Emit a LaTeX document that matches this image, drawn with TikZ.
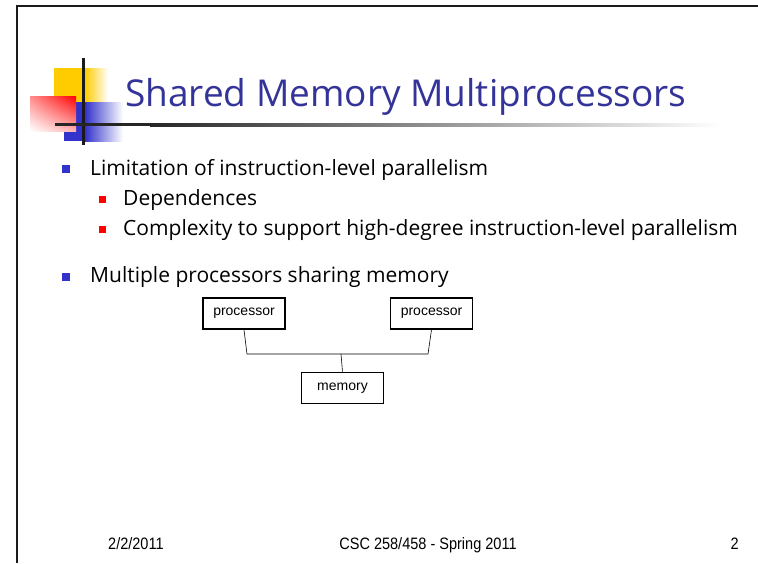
\documentclass[tikz,border=0pt]{standalone}
\usepackage{fontspec}
\usetikzlibrary{shadings}
\setmainfont{Open Sans}
\newfontfamily\boxfont{Liberation Sans}
\newfontfamily\footfont[FakeStretch=0.88]{Liberation Sans}
\definecolor{titleblue}{HTML}{333399}
\definecolor{logoyellow}{HTML}{FFCC00}
\definecolor{logoblue}{HTML}{3333CC}
\definecolor{rulegray}{HTML}{1A1A1A}
\tikzset{
  bodytext/.style={anchor=base west, inner sep=0pt, font=\fontsize{21}{25}\selectfont},
  lvlone/.style={fill=logoblue},
  lvltwo/.style={fill=red},
  unitbox/.style={draw, line width=1.6pt, minimum width=82pt, minimum height=31pt,
    inner sep=0pt, font=\boxfont\fontsize{14}{16}\selectfont},
  wire/.style={line width=0.6pt},
  foot/.style={anchor=base west, inner sep=0pt, font=\footfont\fontsize{16.5}{18}\selectfont}
}
\begin{document}
\begin{tikzpicture}[x=1pt,y=-1pt]
\useasboundingbox (0,0) rectangle (758,563);
\fill[white] (0,0) rectangle (758,563);

% slide frame
\draw[rulegray, line width=2.6pt] (17,563) -- (17,6) -- (758,6);

% logo blocks
\fill[logoyellow] (54,68) rectangle (85,102);
\shade[left color=logoyellow, right color=white] (85,68) rectangle (108,102);
\fill[logoblue] (64,102) rectangle (85,141);
\shade[left color=logoblue, right color=white] (85,102) rectangle (123,141);
\shade[upper right=red, lower left=white, upper left=red!45, lower right=red!30]
  (30,96) rectangle (76,131);
\fill[rulegray] (82,58) rectangle (85,145);

% title rule, fading to the right
\fill[black!85] (55,123.3) rectangle (150,126.3);
\shade[left color=black!85, middle color=black!35, right color=white]
  (150,123.3) rectangle (720,126.3);

% title
\node[anchor=base west, inner sep=0pt, text=titleblue, font=\fontsize{37}{42}\selectfont]
  (title) at (125,106) {Shared Memory Multiprocessors};

% bullets
\fill[lvlone] (62,165) rectangle (70,173);
\node[bodytext] (b1) at (90,175) {Limitation of instruction-level parallelism};
\fill[lvltwo] (99,196) rectangle (106,203);
\node[bodytext] (b1a) at (123,205) {Dependences};
\fill[lvltwo] (99,226) rectangle (106,233);
\node[bodytext] (b1b) at (123,235) {Complexity to support high-degree instruction-level parallelism};
\fill[lvlone] (62,273) rectangle (70,281);
\node[bodytext] (b2) at (90,282) {Multiple processors sharing memory};

% shared-memory diagram
\node[unitbox] (p1) at (244,313.5) {processor};
\node[unitbox] (p2) at (431.5,313.5) {processor};
\node[unitbox] (mem) at (342.5,388) {memory};
\coordinate (jl) at (247,354);
\coordinate (jr) at (428,354);
\coordinate (jm) at (341,354);
\draw[wire] (p1.south) -- (jl) -- (jr) -- (p2.south);
\draw[wire] (jm) -- (mem.north);

% footer
\node[foot] (date) at (108,549) {2/2/2011};
\node[foot, anchor=base] (course) at (428,549) {CSC 258/458 - Spring 2011};
\node[foot, anchor=base east] (page) at (739,549) {2};
\end{tikzpicture}
\end{document}
